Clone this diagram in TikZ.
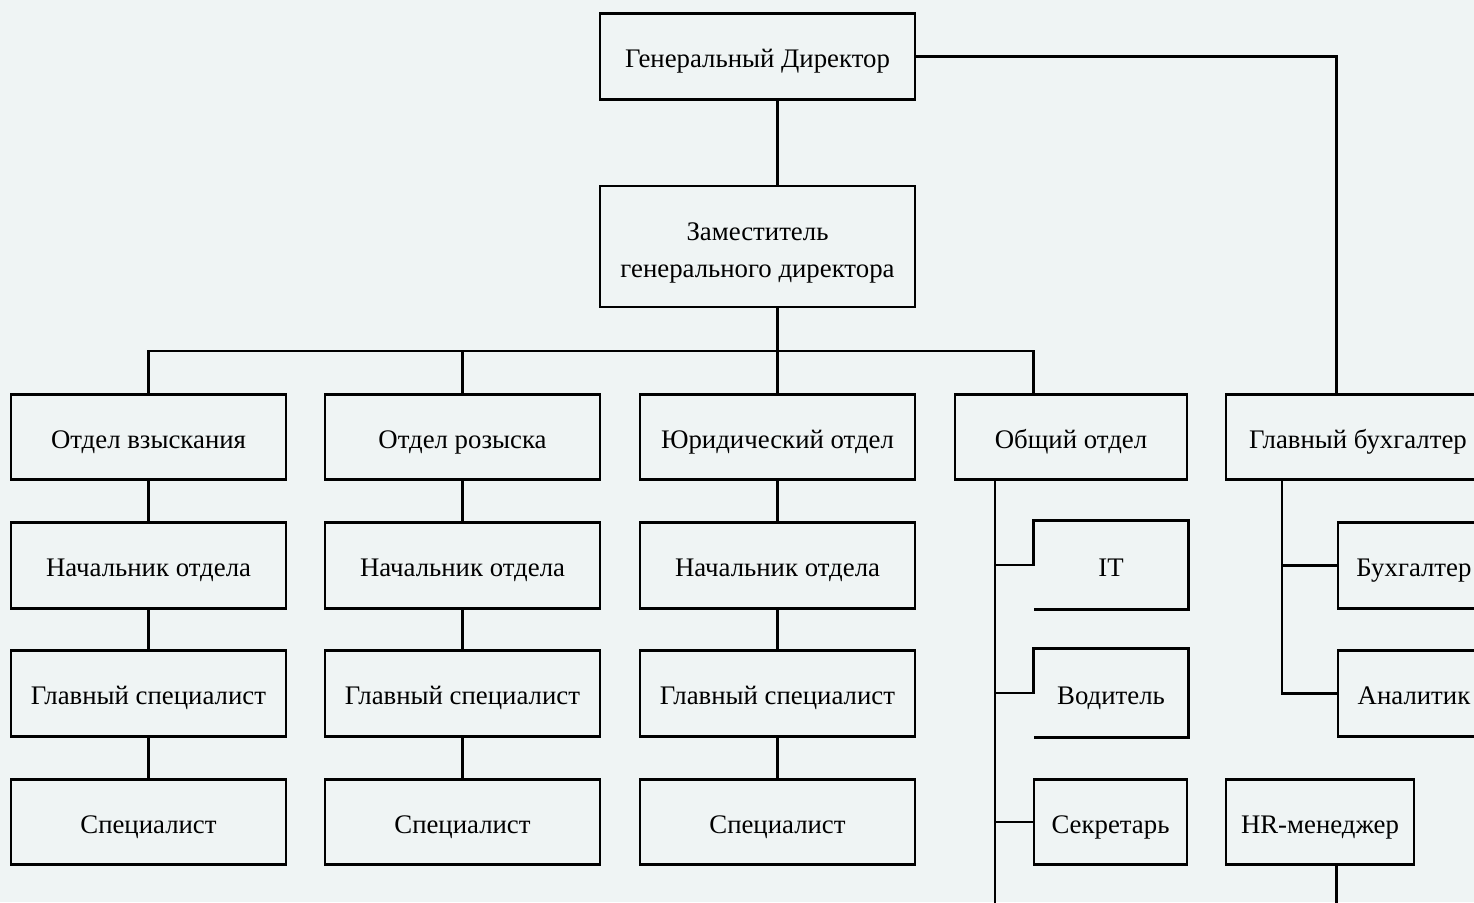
\documentclass[tikz,border=0pt]{standalone}
\usepackage{fontspec}
\setmainfont{Liberation Serif}
\usetikzlibrary{positioning, calc}
\definecolor{bgcol}{RGB}{239,244,244}
\tikzset{
  unit/.style={draw, line width=1.4pt, inner sep=0pt, minimum width=137.5pt, minimum height=42.75pt, align=center, text height=13pt, text depth=2pt, font=\fontsize{13.4}{18.5}\selectfont},
  openunit/.style={unit, draw=none},
  link/.style={line width=1.4pt}
}
\begin{document}
\begin{tikzpicture}[x=0.5pt, y=-0.5pt]
\fill[bgcol] (0,0) rectangle (1474,902);
\useasboundingbox (0,0) rectangle (1474,902);
\clip (0,0) rectangle (1474,902);
% top
\node[unit, minimum width=157.5pt] (gd) at (757.5,56.5) {Генеральный Директор};
\node[unit, minimum width=157.5pt, minimum height=60.5pt, text height=33pt] (zam) at (757.5,246.5) {Заместитель\\генерального директора};
% departments
\node[unit] (vzysk) at (148.5,437) {Отдел взыскания};
\node[unit] (rozysk) at (462.5,437) {Отдел розыска};
\node[unit] (yur) at (777.5,437) {Юридический отдел};
\node[unit, minimum width=116pt] (obsh) at (1071,437) {Общий отдел};
\node[unit, minimum width=132pt] (glbuh) at (1358,437) {Главный бухгалтер};
% second row
\node[unit] (nach1) at (148.5,565.5) {Начальник отдела};
\node[unit] (nach2) at (462.5,565.5) {Начальник отдела};
\node[unit] (nach3) at (777.5,565.5) {Начальник отдела};
\node[openunit, minimum width=76pt] (it) at (1111,565) {IT};
\node[unit, minimum width=76pt] (buh) at (1414,565.5) {Бухгалтер};
% third row
\node[unit] (gs1) at (148.5,693.5) {Главный специалист};
\node[unit] (gs2) at (462.5,693.5) {Главный специалист};
\node[unit] (gs3) at (777.5,693.5) {Главный специалист};
\node[openunit, minimum width=76pt] (vod) at (1111,693) {Водитель};
\node[unit, minimum width=76pt] (anal) at (1414,693.5) {Аналитик};
% fourth row
\node[unit] (sp1) at (148.5,822) {Специалист};
\node[unit] (sp2) at (462.5,822) {Специалист};
\node[unit] (sp3) at (777.5,822) {Специалист};
\node[unit, minimum width=76.5pt] (sekr) at (1110.5,822) {Секретарь};
\node[unit, minimum width=94pt] (hr) at (1320,822) {HR-менеджер};
% helper coordinates
\coordinate (bus) at (0,351);
\coordinate (obline) at (995,0);
\coordinate (buhline) at (1282,0);
\coordinate (bottom) at (0,915);
% connectors
\draw[link] (gd.south -| yur.north) -- (zam.north -| yur.north);
\draw[link] (zam.south -| yur.north) -- (yur.north);
\draw[link] (vzysk.north) -- (vzysk.north |- bus) -- (bus -| it.west) -- (obsh.north -| it.west);
\draw[link] (rozysk.north) -- (rozysk.north |- bus);
\draw[link] (gd.east) -| (glbuh.north -| buh.west);
\foreach \a/\b in {vzysk/nach1, nach1/gs1, gs1/sp1, rozysk/nach2, nach2/gs2, gs2/sp2, yur/nach3, nach3/gs3, gs3/sp3}
  \draw[link] (\a.south) -- (\b.north);
% general department
\draw[link] (obsh.south -| obline) -- (bottom -| obline);
\foreach \n in {it, vod}
  \draw[link] (\n.west -| obline) -- (\n.west) -- (\n.north west) -- (\n.north east) -- (\n.south east) -- (\n.south west);
\draw[link] (sekr.west -| obline) -- (sekr.west);
% accounting
\draw[link] (glbuh.south -| buhline) -- (anal.west -| buhline) -- (anal.west);
\draw[link] (buh.west -| buhline) -- (buh.west);
\draw[link] (hr.south -| buh.west) -- (bottom -| buh.west);
\end{tikzpicture}
\end{document}
